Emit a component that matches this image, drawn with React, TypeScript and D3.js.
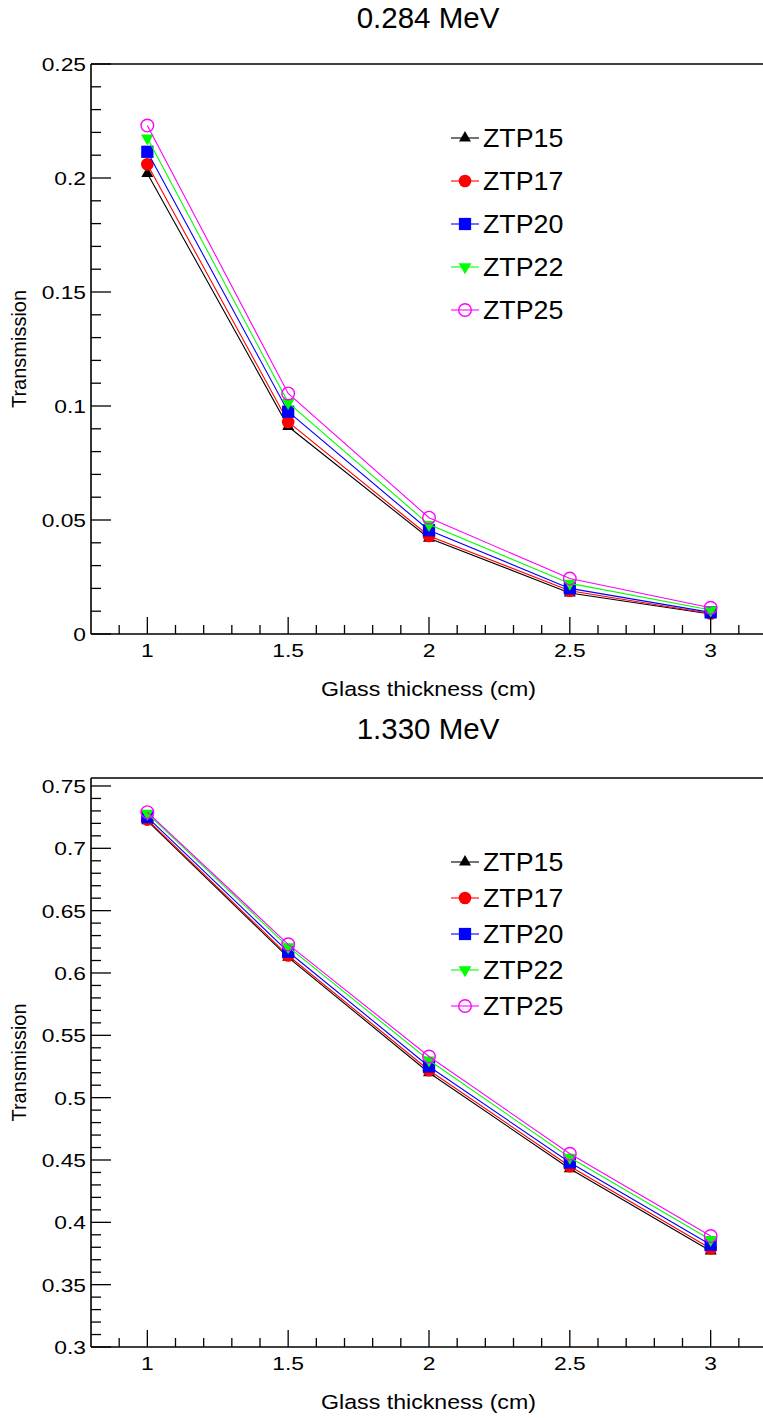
import React from "react";
import * as d3 from "d3";

const thickness = [1, 1.5, 2, 2.5, 3];
const seriesNames = ["ZTP15", "ZTP17", "ZTP20", "ZTP22", "ZTP25"];
const seriesColors = ["#000000", "#ff0000", "#0000ff", "#00ff00", "#ff00ff"];
const seriesMarkers = ["triangleUp", "circle", "square", "triangleDown", "openCircle"];

// 0.284 MeV
const ztp15Low = [0.202, 0.091, 0.042, 0.018, 0.0088];
const ztp17Low = [0.206, 0.093, 0.043, 0.019, 0.009];
const ztp20Low = [0.2115, 0.0975, 0.0455, 0.02, 0.0095];
const ztp22Low = [0.2175, 0.1015, 0.048, 0.0222, 0.0105];
const ztp25Low = [0.223, 0.1055, 0.051, 0.0243, 0.0115];

// 1.330 MeV
const ztp15High = [0.722, 0.6125, 0.52, 0.443, 0.377];
const ztp17High = [0.723, 0.614, 0.522, 0.445, 0.379];
const ztp20High = [0.725, 0.617, 0.525, 0.448, 0.382];
const ztp22High = [0.728, 0.621, 0.53, 0.452, 0.386];
const ztp25High = [0.729, 0.623, 0.533, 0.455, 0.389];

const xMajorTicks = [1, 1.5, 2, 2.5, 3];
const xTickLabels = ["1", "1.5", "2", "2.5", "3"];
const yTicksLow = [0, 0.05, 0.1, 0.15, 0.2, 0.25];
const yTickLabelsLow = ["0", "0.05", "0.1", "0.15", "0.2", "0.25"];
const yTicksHigh = [0.3, 0.35, 0.4, 0.45, 0.5, 0.55, 0.6, 0.65, 0.7, 0.75];
const yTickLabelsHigh = ["0.3", "0.35", "0.4", "0.45", "0.5", "0.55", "0.6", "0.65", "0.7", "0.75"];

const FONT = "'Liberation Sans', Arial, Helvetica, sans-serif";

function SText({ x, y, size, sx = 1, anchor = "middle", rotate = false, fill = "#000", children }: any) {
  return (
    <text
      transform={`translate(${x},${y}) scale(${sx},1)${rotate ? " rotate(-90)" : ""}`}
      textAnchor={anchor}
      fontSize={size}
      fontFamily={FONT}
      fill={fill}
    >
      {children}
    </text>
  );
}

function Marker({ kind, color, x, y }: any) {
  if (kind === "openCircle") {
    return <circle cx={x} cy={y} r={6.3} fill="none" stroke={color} strokeWidth={1.4} />;
  }
  let path = "";
  if (kind === "triangleUp") path = d3.symbol(d3.symbolTriangle, 62)() as string;
  if (kind === "triangleDown") path = d3.symbol(d3.symbolTriangle, 70)() as string;
  if (kind === "circle") path = d3.symbol(d3.symbolCircle, 125)() as string;
  if (kind === "square") path = d3.symbol(d3.symbolSquare, 150)() as string;
  const rot = kind === "triangleDown" ? " rotate(180)" : "";
  return <path d={path} transform={`translate(${x},${y})${rot}`} fill={color} />;
}

function Panel({ title, titleY, top, bottom, yDomain, yTicks, yLabels, series, legendY, legendStep }: any) {
  const x = d3.scaleLinear().domain([0.8, 3.2]).range([91, 767]);
  const y = d3.scaleLinear().domain(yDomain).range([bottom, top]);
  const line = d3
    .line<number>()
    .x((_, i) => x(thickness[i]))
    .y((d) => y(d));
  const xMinor = d3.range(9, 32).map((v) => v / 10).filter((v) => Math.abs(v * 2 - Math.round(v * 2)) > 1e-6);
  const yMin = yDomain[0];
  const yMinor = d3
    .range(Math.round(yMin * 100), Math.floor(yDomain[1] * 100 + 1e-6) + 1)
    .map((v) => v / 100)
    .filter((v) => Math.abs(v * 20 - Math.round(v * 20)) > 1e-6);
  const left = x(0.8);
  return (
    <g>
      <SText x={428} y={titleY} size={29.5}>{title}</SText>
      {/* series */}
      {series.map((vals: number[], si: number) => (
        <g key={si}>
          <path d={line(vals) as string} fill="none" stroke={seriesColors[si]} strokeWidth={1.1} />
          {vals.map((v, i) => (
            <Marker key={i} kind={seriesMarkers[si]} color={seriesColors[si]} x={x(thickness[i])} y={y(v)} />
          ))}
        </g>
      ))}
      {/* frame */}
      <line x1={left} x2={770} y1={top} y2={top} stroke="#000" strokeWidth={1.6} />
      <line x1={left} x2={left} y1={top} y2={bottom} stroke="#000" strokeWidth={1.6} />
      <line x1={left} x2={770} y1={bottom} y2={bottom} stroke="#000" strokeWidth={1.6} />
      {/* x ticks */}
      {xMajorTicks.map((t, i) => (
        <g key={"xm" + i}>
          <line x1={x(t)} x2={x(t)} y1={bottom} y2={bottom - 17} stroke="#000" strokeWidth={1.3} />
          <SText x={x(t)} y={bottom + 23} size={19} sx={1.2}>{xTickLabels[i]}</SText>
        </g>
      ))}
      {xMinor.map((t, i) => (
        <line key={"xn" + i} x1={x(t)} x2={x(t)} y1={bottom} y2={bottom - 9} stroke="#000" strokeWidth={1.3} />
      ))}
      {/* y ticks */}
      {yTicks.map((t: number, i: number) => (
        <g key={"ym" + i}>
          <line x1={left} x2={left + 20} y1={y(t)} y2={y(t)} stroke="#000" strokeWidth={1.3} />
          <SText x={86} y={y(t) + 7} size={19} sx={1.2} anchor="end">{yLabels[i]}</SText>
        </g>
      ))}
      {yMinor.map((t: number, i: number) => (
        <line key={"yn" + i} x1={left} x2={left + 10} y1={y(t)} y2={y(t)} stroke="#000" strokeWidth={1.3} />
      ))}
      {/* axis titles */}
      <SText x={428.5} y={bottom + 62} size={20.5} sx={1.13}>Glass thickness (cm)</SText>
      <SText x={26} y={(top + bottom) / 2} size={20} sx={1.0} rotate>Transmission</SText>
      {/* legend */}
      {seriesNames.map((name, si) => {
        const ly = legendY + si * legendStep;
        return (
          <g key={"lg" + si}>
            <line x1={451} x2={479} y1={ly} y2={ly} stroke={seriesColors[si]} strokeWidth={1.1} />
            <Marker kind={seriesMarkers[si]} color={seriesColors[si]} x={465} y={ly} />
            <SText x={483} y={ly + 9} size={25.5} sx={1.05} anchor="start">{name}</SText>
          </g>
        );
      })}
    </g>
  );
}

export default function App() {
  const lowSeries = [ztp15Low, ztp17Low, ztp20Low, ztp22Low, ztp25Low];
  const highSeries = [ztp15High, ztp17High, ztp20High, ztp22High, ztp25High];
  return (
    <svg
      width={763}
      height={1418}
      style={{ position: "absolute", left: 0, top: 0, background: "#fff" }}
    >
      <rect width={763} height={1418} fill="#fff" />
      <Panel
        title="0.284 MeV"
        titleY={28}
        top={64}
        bottom={634}
        yDomain={[0, 0.25]}
        yTicks={yTicksLow}
        yLabels={yTickLabelsLow}
        series={lowSeries}
        legendY={138}
        legendStep={43}
      />
      <Panel
        title="1.330 MeV"
        titleY={739}
        top={778}
        bottom={1347}
        yDomain={[0.3, 0.7564]}
        yTicks={yTicksHigh}
        yLabels={yTickLabelsHigh}
        series={highSeries}
        legendY={862}
        legendStep={36}
      />
    </svg>
  );
}
